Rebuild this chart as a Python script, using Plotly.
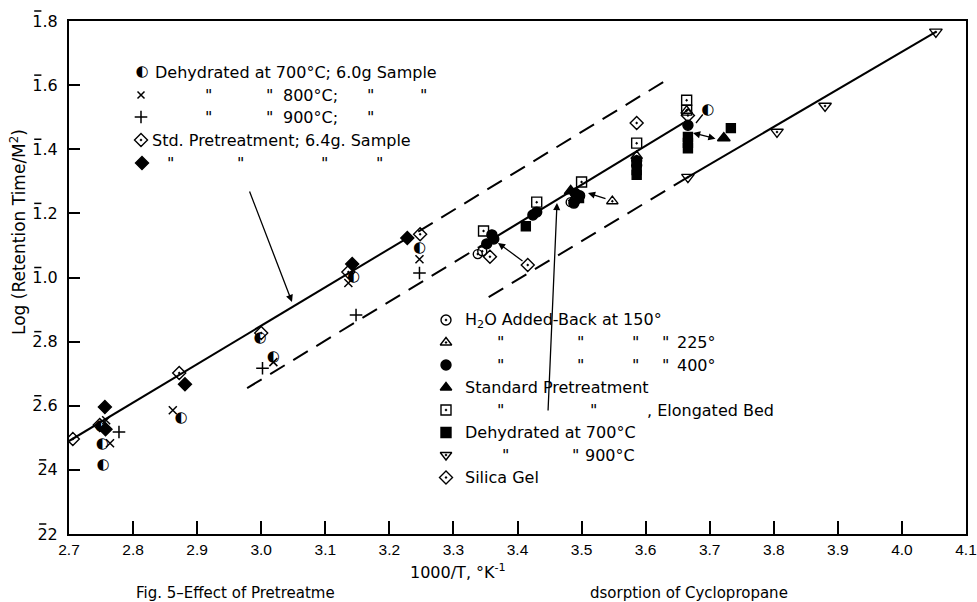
import plotly.graph_objects as go

FONT = "DejaVu Sans"
TICKFONT = "Liberation Sans"

# ---------------- data (x = 1000/T, y = log retention time / m^2) ----------------
# upper legend series
dehy700_6g_x = [2.750, 2.752, 2.753, 2.875, 2.998, 3.019, 3.144, 3.247, 3.697]
dehy700_6g_y = [-1.464, -1.520, -1.585, -1.439, -1.190, -1.248, -0.999, -0.908, -0.478]
dehy800_x = [2.758, 2.764, 2.862, 3.019, 3.136, 3.247]
dehy800_y = [-1.445, -1.517, -1.414, -1.264, -1.017, -0.943]
dehy900_6g_x = [2.778, 3.002, 3.148, 3.247]
dehy900_6g_y = [-1.482, -1.283, -1.117, -0.986]
std64_open_x = [2.748, 2.872, 3.000, 3.136, 3.248]
std64_open_y = [-1.460, -1.298, -1.173, -0.983, -0.865]
std64_fill_x = [2.756, 2.757, 2.881, 3.142, 3.228]
std64_fill_y = [-1.404, -1.473, -1.333, -0.958, -0.877]

# lower legend series
h2o150_x = [3.345, 3.338, 3.483]
h2o150_y = [-0.918, -0.927, -0.765]
h2o225_x = [3.548, 3.586, 3.664]
h2o225_y = [-0.762, -0.621, -0.480]
h2o400_x = [3.360, 3.363, 3.352, 3.430, 3.424, 3.490, 3.497, 3.488, 3.586, 3.586, 3.666]
h2o400_y = [-0.867, -0.880, -0.895, -0.796, -0.805, -0.737, -0.745, -0.768, -0.636, -0.650, -0.525]
stdpre_x = [3.483, 3.722]
stdpre_y = [-0.730, -0.565]
elong_x = [3.347, 3.430, 3.500, 3.586, 3.664, 3.664]
elong_y = [-0.855, -0.765, -0.702, -0.581, -0.447, -0.478]
dehy700_x = [3.413, 3.496, 3.586, 3.586, 3.666, 3.666, 3.666, 3.733]
dehy700_y = [-0.840, -0.752, -0.665, -0.680, -0.562, -0.580, -0.597, -0.534]
dehy900_x = [3.666, 3.805, 3.880, 4.053]
dehy900_y = [-0.687, -0.546, -0.465, -0.234]
silica_x = [2.706, 3.357, 3.416, 3.490, 3.586, 3.666]
silica_y = [-1.504, -0.935, -0.961, -0.760, -0.518, -0.495]

# drawn lines: solid where measured, dashed where extrapolated
line1_solid_x = [2.70, 3.228]
line1_solid_y = [-1.51, -0.877]
line1_dash_x = [3.245, 3.628]
line1_dash_y = [-0.857, -0.390]
line2_dash_x = [2.978, 3.340]
line2_dash_y = [-1.345, -0.905]
line2_solid_x = [3.340, 3.659]
line2_solid_y = [-0.905, -0.518]
line3_dash_x = [3.355, 3.666]
line3_dash_y = [-1.061, -0.687]
line3_solid_x = [3.666, 4.053]
line3_solid_y = [-0.687, -0.234]

# axes
x_ticks = [2.7, 2.8, 2.9, 3.0, 3.1, 3.2, 3.3, 3.4, 3.5, 3.6, 3.7, 3.8, 3.9, 4.0, 4.1]
x_ticktext = ["2.7", "2.8", "2.9", "3.0", "3.1", "3.2", "3.3", "3.4", "3.5", "3.6",
              "3.7", "3.8", "3.9", "4.0", "4.1"]
y_ticks = [-1.8, -1.6, -1.4, -1.2, -1.0, -0.8, -0.6, -0.4, -0.2]
# characteristic shown with a bar (negative characteristic): 2-bar and 1-bar
y_ticktext = ["22", "24", "2.6", "2.8", "1.0", "1.2", "1.4", "1.6", "1.8"]

# ---------------- layout geometry ----------------
W, H = 977, 602
L, R, T, B = 69, 966, 21, 534
X0, X1, Y0, Y1 = 2.7, 4.1, -1.8, -0.2


def dx(px):
    return X0 + (px - L) / (R - L) * (X1 - X0)


def dy(py):
    return Y1 - (py - T) / (B - T) * (Y1 - Y0)


def fx(px):
    return (px - L) / (R - L)


def fy(py):
    return (B - py) / (B - T)


fig = go.Figure()
K = "black"
DASH = "17px,10px"


def line(xs, ys, dash="solid"):
    fig.add_trace(go.Scatter(x=xs, y=ys, mode="lines",
                             line=dict(color=K, width=2, dash=dash),
                             hoverinfo="skip", showlegend=False))


line(line1_solid_x, line1_solid_y)
line(line1_dash_x, line1_dash_y, DASH)
line(line2_dash_x, line2_dash_y, DASH)
line(line2_solid_x, line2_solid_y)
line(line3_dash_x, line3_dash_y, DASH)
line(line3_solid_x, line3_solid_y)


def pts(xs, ys, symbol, size=9, lw=1.4):
    fig.add_trace(go.Scatter(x=xs, y=ys, mode="markers",
                             marker=dict(symbol=symbol, size=size, color=K,
                                         line=dict(color=K, width=lw)),
                             hoverinfo="skip", showlegend=False))


def half(xs, ys, size=15):
    fig.add_trace(go.Scatter(x=xs, y=ys, mode="text", text=["\u25d0"] * len(xs),
                             textfont=dict(family=FONT, size=size, color=K),
                             textposition="middle center",
                             hoverinfo="skip", showlegend=False))


# data markers
pts(silica_x, silica_y, "diamond-open-dot", 10)
pts(std64_open_x, std64_open_y, "diamond-open-dot", 10)
pts(std64_fill_x, std64_fill_y, "diamond", 10)
pts(dehy800_x, dehy800_y, "x-thin", 8, 1.5)
pts(dehy900_6g_x, dehy900_6g_y, "cross-thin", 9, 1.5)
half(dehy700_6g_x, dehy700_6g_y)
pts(h2o150_x, h2o150_y, "circle-open-dot", 9)
pts(h2o225_x, h2o225_y, "triangle-up-open-dot", 10)
pts(h2o400_x, h2o400_y, "circle", 10)
pts(stdpre_x, stdpre_y, "triangle-up", 11)
pts(elong_x, elong_y, "square-open-dot", 10)
pts(dehy700_x, dehy700_y, "square", 9)
pts(dehy900_x, dehy900_y, "triangle-down-open-dot", 11)

# ---------------- legends (symbols + text) ----------------
top_rows_y = [72, 95, 117, 140, 163]
low_rows_y = [320, 342.5, 365, 387.5, 410, 432.5, 455, 477.5]

half([dx(142)], [dy(top_rows_y[0])])
pts([dx(141)], [dy(top_rows_y[1])], "x-thin", 7, 1.5)
pts([dx(141)], [dy(top_rows_y[2])], "cross-thin", 9, 1.5)
pts([dx(141)], [dy(top_rows_y[3])], "diamond-open-dot", 10)
pts([dx(142)], [dy(top_rows_y[4])], "diamond", 10)

low_syms = ["circle-open-dot", "triangle-up-open-dot", "circle", "triangle-up",
            "square-open-dot", "square", "triangle-down-open-dot", "diamond-open-dot"]
for yy, s in zip(low_rows_y, low_syms):
    pts([dx(446)], [dy(yy)], s, 10)

annotations = []


def txt(s, px, py, size=16, xanchor="left", **kw):
    annotations.append(dict(text=s, x=fx(px), y=fy(py), xref="paper", yref="paper",
                            xanchor=xanchor, yanchor="middle", showarrow=False,
                            font=dict(family=FONT, size=size, color=K), **kw))


Q = "\""
txt("Dehydrated at 700\u00b0C; 6.0g Sample", 153, top_rows_y[0])
for p in (203, 264, 365, 418):
    txt(Q, p, top_rows_y[1])
txt("800\u00b0C;", 281, top_rows_y[1])
for p in (203, 264, 365):
    txt(Q, p, top_rows_y[2])
txt("900\u00b0C;", 281, top_rows_y[2])
txt("Std. Pretreatment; 6.4g. Sample", 150, top_rows_y[3])
for p in (165, 235, 319, 374):
    txt(Q, p, top_rows_y[4])

txt("H<sub>2</sub>O Added-Back at 150\u00b0", 463, low_rows_y[0])
for p in (495, 575, 630, 660):
    txt(Q, p, low_rows_y[1])
txt("225\u00b0", 675, low_rows_y[1])
for p in (495, 575, 630, 660):
    txt(Q, p, low_rows_y[2])
txt("400\u00b0", 675, low_rows_y[2])
txt("Standard Pretreatment", 463, low_rows_y[3])
for p in (495, 588):
    txt(Q, p, low_rows_y[4])
txt(", Elongated Bed", 645, low_rows_y[4])
txt("Dehydrated at 700\u00b0C", 463, low_rows_y[5])
txt(Q, 500, low_rows_y[6])
txt(Q, 570, low_rows_y[6])
txt("900\u00b0C", 583, low_rows_y[6])
txt("Silica Gel", 463, low_rows_y[7])

# axis titles and caption
annotations.append(dict(text="Log (Retention Time/M<sup>2</sup>)", x=fx(18), y=fy(232),
                        xref="paper", yref="paper", textangle=-90, showarrow=False,
                        xanchor="center", yanchor="middle",
                        font=dict(family=FONT, size=17, color=K)))
txt("1000/T, \u00b0K<sup>-1</sup>", 458, 572, xanchor="center")
txt("Fig. 5\u2013Effect of Pretreatme", 134, 593, size=15)
txt("dsorption of Cyclopropane", 588, 593, size=15)


# arrows (pointer lines drawn on the figure)
def arrow(tail_px, head_px, head=2, side="end"):
    annotations.append(dict(x=dx(head_px[0]), y=dy(head_px[1]), ax=dx(tail_px[0]),
                            ay=dy(tail_px[1]), xref="x", yref="y", axref="x", ayref="y",
                            text="", showarrow=True, arrowhead=head, arrowsize=1.1,
                            arrowwidth=1.3, arrowcolor=K, arrowside=side))


arrow((249, 190), (292, 302))
arrow((548, 412), (557, 203))
arrow((524, 262), (498, 243))
arrow((607, 199), (588, 193))
arrow((704, 113), (696, 123), head=0)
arrow((717, 139), (693, 133), side="end+start")

# bars over the negative characteristic of the y tick labels
LABEL_RIGHT = 57          # right edge of the y tick labels (px)
DIGIT_W = 9.7             # width of one digit at the tick font size (px)
DOT_W = 4.9
shapes = []
for v, t in zip(y_ticks, y_ticktext):
    py = B - (v - Y0) / (Y1 - Y0) * (B - T)
    width = sum(DOT_W if c == "." else DIGIT_W for c in t)
    left = LABEL_RIGHT - width
    shapes.append(dict(type="line", xref="paper", yref="paper",
                       x0=fx(left + 1.5), x1=fx(left + DIGIT_W - 1),
                       y0=fy(py - 10), y1=fy(py - 10),
                       line=dict(color=K, width=1.5)))

fig.update_layout(
    width=W, height=H, margin=dict(l=L, r=W - R, t=T, b=H - B, autoexpand=False),
    paper_bgcolor="white", plot_bgcolor="white",
    annotations=annotations, shapes=shapes, showlegend=False,
    font=dict(family=FONT, size=16, color=K),
)
fig.update_xaxes(range=[X0, X1], tickvals=x_ticks, ticktext=x_ticktext,
                 ticks="inside", ticklen=13, tickwidth=1.5, tickcolor=K,
                 showline=True, linewidth=2, linecolor=K, mirror=True,
                 showgrid=False, zeroline=False, automargin=False,
                 ticklabeloverflow="allow",
                 tickfont=dict(family=TICKFONT, size=15.5, color=K))
fig.update_yaxes(range=[Y0, Y1], tickvals=y_ticks, ticktext=y_ticktext,
                 ticks="inside", ticklen=11, tickwidth=1.5, tickcolor=K,
                 showline=True, linewidth=2, linecolor=K, mirror=True,
                 showgrid=False, zeroline=False, ticklabelstandoff=6, automargin=False,
                 tickfont=dict(family=FONT, size=16, color=K))

fig.write_html("out.html", config={"responsive": False})
